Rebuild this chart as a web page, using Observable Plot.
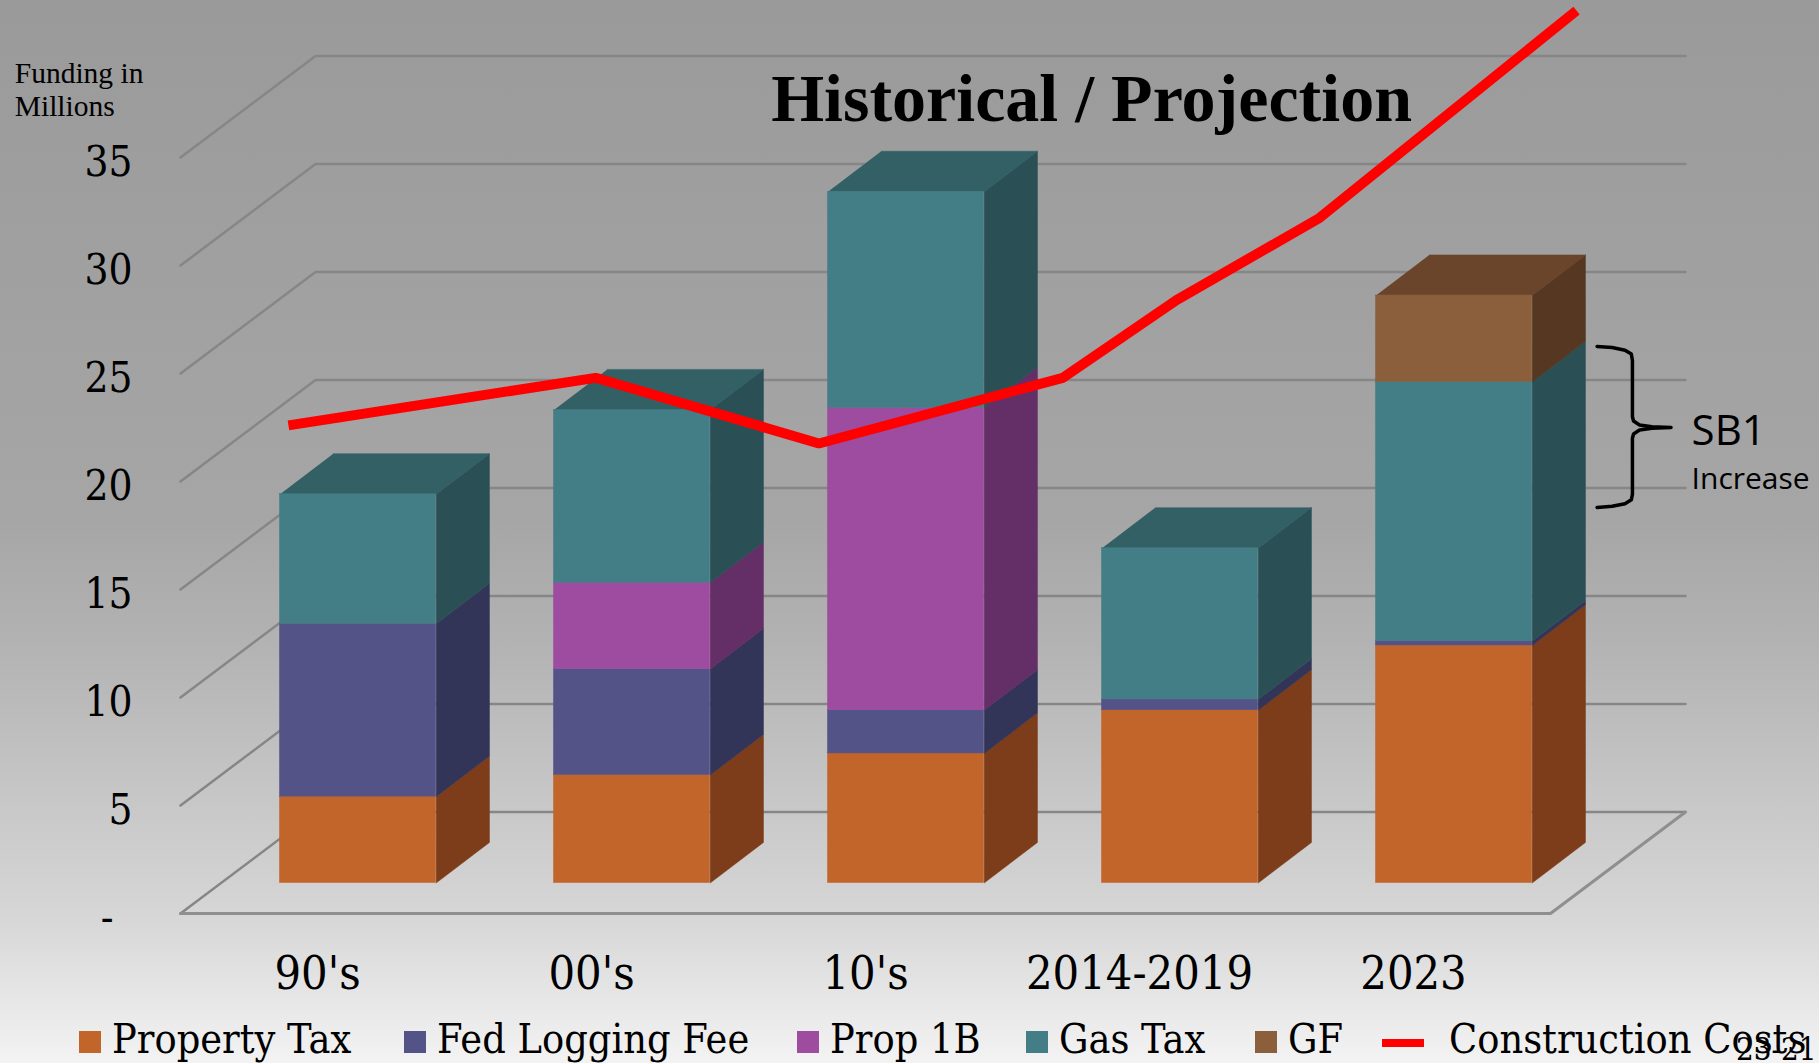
<!DOCTYPE html>
<html>
<head>
<meta charset="utf-8">
<script src="https://cdn.jsdelivr.net/npm/d3@7"></script>
<script src="https://cdn.jsdelivr.net/npm/@observablehq/plot@0.6"></script>
<style>
  html, body { margin: 0; padding: 0; }
  body {
    width: 1819px; height: 1063px; overflow: hidden; position: relative;
    background: linear-gradient(180deg, #9a9a9a 0%, #a6a6a6 49%, #b2b2b2 60%, #d6d6d6 86%, #f3f3f3 100%);
    font-family: "DejaVu Serif Condensed", "DejaVu Serif", serif; color: #000;
  }
  #chart svg { display: block; background: transparent; overflow: visible; }
  #legend { position: absolute; left: 0; top: 1015px; width: 1819px; height: 48px; font-size: 41px; white-space: nowrap; }
  #legend .item { position: absolute; top: 0; height: 48px; display: flex; align-items: center; }
  #legend .swatch { display: inline-block; width: 22px; height: 22px; margin-right: 11px; margin-top: 6px; }
  #legend .dash { display: inline-block; width: 42px; height: 8px; margin-right: 25px; margin-top: 8px; }
  #pageno { position: absolute; left: 1736px; top: 1031px; font-size: 31px; }
</style>
</head>
<body>
<div id="chart"></div>
<div id="legend"></div>
<div id="pageno">23-21</div>
<script>
const categories = ["90's", "00's", "10's", "2014-2019", "2023"];
const propertyTax = [4, 5, 6, 8, 11];
const fedLogging  = [8, 4.9, 2, 0.5, 0.2];
const prop1B      = [0, 4, 14, 0, 0];
const gasTax      = [6, 8, 10, 7, 12];
const gf          = [0, 0, 0, 0, 4];

const seriesNames = ["Property Tax", "Fed Logging Fee", "Prop 1B", "Gas Tax", "GF"];
const seriesValues = [propertyTax, fedLogging, prop1B, gasTax, gf];
const frontColors = ["#c2652b", "#545387", "#9d4c9f", "#437e86", "#8b5e3c"];
const topColors   = ["#9a4e20", "#3f3f68", "#7a3a7c", "#326065", "#6a452c"];
const sideColors  = ["#7d3c1a", "#323458", "#642e66", "#2a5056", "#553722"];

// Construction cost line, read in category-band position and $ millions
const costX = [0.394, 1.515, 2.33, 3.22, 3.635, 4.157, 5.095];
const costY = [22.6, 24.8, 21.76, 24.8, 28.4, 32.2, 41.8];

const yTicks = [0, 5, 10, 15, 20, 25, 30, 35];

// Brace annotation (in the same data units)
const braceX = [5.17, 5.225, 5.272, 5.295, 5.299, 5.299, 5.303, 5.325, 5.37, 5.44,
                5.37, 5.325, 5.303, 5.299, 5.299, 5.295, 5.272, 5.225, 5.17];
const braceY = [26.25, 26.2, 26.08, 25.9, 25.6, 23.0, 22.8, 22.62, 22.53, 22.5,
                22.47, 22.38, 22.2, 22.0, 19.4, 19.15, 18.97, 18.85, 18.8];

// 3-D projection, data units per full chart depth
const depthX = 0.4927, depthY = 4.7;
const barOffset = 0.3, barDepth = 0.395;
const barLeft = 0.363, barRight = 0.933;

const polys = [];
const fronts = [];
categories.forEach((c, i) => {
  let base = barOffset * depthY;
  const x0 = i + barLeft, x1 = i + barRight;
  const dx = barDepth * depthX, dy = 0.4 * depthY;
  let topIdx = 0;
  seriesValues.forEach((vals, s) => { if (vals[i] > 0) topIdx = s; });
  seriesValues.forEach((vals, s) => {
    const v = vals[i];
    if (!v) return;
    const t = base + v;
    fronts.push({x1: x0, x2: x1, y1: base, y2: t, fill: frontColors[s]});
    [[x1, base], [x1 + dx, base + dy], [x1 + dx, t + dy], [x1, t]].forEach(p =>
      polys.push({id: `s${i}-${s}`, x: p[0], y: p[1], fill: sideColors[s]}));
    if (s === topIdx) {
      [[x0, t], [x1, t], [x1 + dx, t + dy], [x0 + dx, t + dy]].forEach(p =>
        polys.push({id: `t${i}-${s}`, x: p[0], y: p[1], fill: topColors[s]}));
    }
    base = t;
  });
});

const gridPts = yTicks.flatMap(v => [
  {id: v, x: 0, y: v},
  {id: v, x: depthX, y: v + depthY},
  {id: v, x: categories.length + depthX, y: v + depthY}
]);
const floorPts = [
  {x: 0, y: 0}, {x: categories.length, y: 0}, {x: categories.length + depthX, y: depthY}
];
const cost = costX.map((x, i) => ({x, y: costY[i]}));
const brace = braceX.map((x, i) => ({x, y: braceY[i]}));

const sans = "'Open Sans', sans-serif";
const times = "'Liberation Serif', serif";

const plot = Plot.plot({
  width: 1819, height: 1010,
  marginLeft: 180, marginRight: 269, marginTop: 157, marginBottom: 97,
  style: {background: "transparent", fontFamily: "'DejaVu Serif Condensed', 'DejaVu Serif', serif", color: "#000", overflow: "visible"},
  x: {domain: [0, categories.length], axis: null},
  y: {domain: [0, 35], axis: null},
  color: {type: "identity"},
  marks: [
    Plot.line(gridPts, {x: "x", y: "y", z: "id", stroke: "#868686", strokeWidth: 2.5}),
    Plot.line(floorPts, {x: "x", y: "y", stroke: "#8f8f8f", strokeWidth: 3}),
    Plot.line(polys, {x: "x", y: "y", z: "id", fill: "fill", stroke: "fill", strokeWidth: 0.5}),
    Plot.rect(fronts, {x1: "x1", x2: "x2", y1: "y1", y2: "y2", fill: "fill", stroke: "fill", strokeWidth: 0.5}),
    Plot.line(cost, {x: "x", y: "y", stroke: "#ff0000", strokeWidth: 10, strokeLinejoin: "miter", strokeLinecap: "butt"}),
    Plot.line(brace, {x: "x", y: "y", curve: "linear", stroke: "#000", strokeWidth: 3.5, strokeLinecap: "round"}),
    Plot.axisY({ticks: yTicks, tickSize: 0, tickPadding: 48, label: null, fontSize: 42, dy: 5,
      tickFormat: d => d === 0 ? "-\u2002" : String(d)}),
    Plot.axisX({ticks: categories.map((c, i) => i + 0.5), tickSize: 0, tickPadding: 42, label: null, fontSize: 46.5,
      tickFormat: d => categories[Math.floor(d)]}),
    Plot.text(["Historical / Projection"], {x: 3.325, y: 37.8, text: d => d, fontSize: 68, fontWeight: "bold",
      fontFamily: times, textAnchor: "middle", lineAnchor: "bottom", dy: 24}),
    Plot.text(["Funding in\nMillions"], {x: -0.605, y: 38.17, text: d => d, fontSize: 29.5, fontFamily: times,
      textAnchor: "start", lineHeight: 1.1}),
    Plot.text(["SB1"], {x: 5.515, y: 22.3, text: d => d, fontSize: 42, fontFamily: sans, textAnchor: "start"}),
    Plot.text(["Increase"], {x: 5.515, y: 20.08, text: d => d, fontSize: 30, fontFamily: sans, textAnchor: "start"})
  ]
});
document.getElementById("chart").appendChild(plot);

const legend = document.getElementById("legend");
const legendLeft = [79, 404, 797, 1026, 1255];
seriesNames.forEach((name, s) => {
  const item = document.createElement("div");
  item.className = "item";
  item.style.left = legendLeft[s] + "px";
  item.innerHTML = `<span class="swatch" style="background:${frontColors[s]}"></span><span>${name}</span>`;
  legend.appendChild(item);
});
const lineItem = document.createElement("div");
lineItem.className = "item";
lineItem.style.left = "1382px";
lineItem.innerHTML = `<span class="dash" style="background:#ff0000"></span><span>Construction Costs</span>`;
legend.appendChild(lineItem);
</script>
</body>
</html>
